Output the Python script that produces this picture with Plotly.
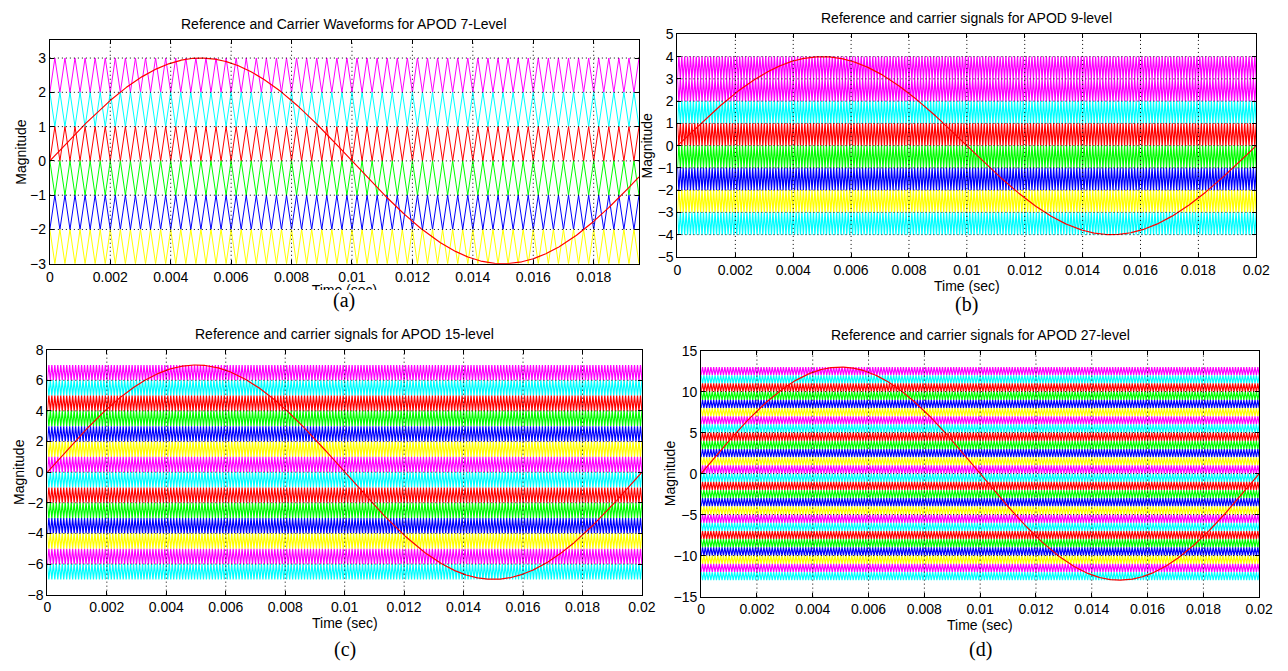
import numpy as np
import plotly.graph_objects as go

# ---------------- data ----------------
titles = [
    "Reference and Carrier Waveforms for APOD 7-Level",
    "Reference and carrier signals for APOD 9-level",
    "Reference and carrier signals for APOD 15-level",
    "Reference and carrier signals for APOD 27-level",
]
panel_labels = ["(a)", "(b)", "(c)", "(d)"]
levels = [7, 9, 15, 27]                 # number of output levels
ref_amplitude = [3, 4, 7, 13]           # reference peak value
ref_freq = 50                           # Hz
carrier_freq = [3000, 10000, 10000, 10000]   # Hz
t_end = [0.0195, 0.02, 0.02, 0.02]      # s

# band colours listed from the top band downwards
cycle6 = ["#FF00FF", "#00FFFF", "#FF0000", "#00FF00", "#0000FF", "#FFFF00"]
band_colors = [
    cycle6,
    ["#FF00FF", "#FF00FF", "#00FFFF", "#FF0000", "#00FF00", "#0000FF", "#FFFF00", "#00FFFF"],
    (cycle6 * 3)[:14],
    (cycle6 * 5)[:26],
]

y_ranges = [[-3, 3.52], [-5, 5], [-8, 8], [-15, 15]]
y_ticks = [list(range(-3, 4)), list(range(-5, 6)), list(range(-8, 9, 2)), list(range(-15, 16, 5))]
x_ticks = [0, 0.002, 0.004, 0.006, 0.008, 0.01, 0.012, 0.014, 0.016, 0.018, 0.02]
x_tick_text = ["0", "0.002", "0.004", "0.006", "0.008", "0.01", "0.012", "0.014", "0.016", "0.018", "0.02"]

# ---------------- layout geometry (pixels) ----------------
W, H = 1288, 671
boxes = [  # left, right, top, bottom
    (46.5, 644, 33, 262),
    (683, 1270, 27, 255),
    (44, 647, 350, 601),
    (707, 1273, 351, 603),
]
carrier_width = [1.0, 1.2, 1.2, 1.2]

FONT = "Liberation Sans Narrow, Liberation Sans, Arial, sans-serif"
SERIF = "Liberation Serif, Times New Roman, serif"

fig = go.Figure()
layout = dict(
    width=W, height=H, margin=dict(l=0, r=0, t=0, b=0),
    paper_bgcolor="white", plot_bgcolor="white", showlegend=False,
    font=dict(family=FONT, size=14, color="black"),
)
annotations = []
shapes = []

for i in range(4):
    xa = "x" if i == 0 else f"x{i+1}"
    ya = "y" if i == 0 else f"y{i+1}"
    l, r, t, b = boxes[i]
    n_carriers = levels[i] - 1
    half = 0.5 / carrier_freq[i]
    tt = np.arange(0, t_end[i] + half, half)
    base = (np.arange(len(tt)) % 2).astype(float)  # 0,1,0,1 triangle vertices
    top = n_carriers // 2
    for k in range(n_carriers):
        low = top - 1 - k
        wave = base if k % 2 == 0 else 1 - base   # alternate phase opposition
        fig.add_trace(go.Scatter(
            x=tt, y=low + wave, mode="lines",
            line=dict(color=band_colors[i][k], width=carrier_width[i]),
            xaxis=xa, yaxis=ya, hoverinfo="skip"))
    ts = np.linspace(0, t_end[i], 1500)
    fig.add_trace(go.Scatter(
        x=ts, y=ref_amplitude[i] * np.sin(2 * np.pi * ref_freq * ts), mode="lines",
        line=dict(color="#FF0000", width=1.2), xaxis=xa, yaxis=ya, hoverinfo="skip"))

    axcommon = dict(showline=True, linecolor="black", linewidth=1, mirror="ticks",
                    ticks="inside", ticklen=4, tickcolor="black",
                    showgrid=False, zeroline=False, tickfont=dict(family=FONT, size=14),
                    layer="above traces")
    layout["xaxis" if i == 0 else f"xaxis{i+1}"] = dict(
        axcommon, domain=[l / W, r / W], anchor=ya, range=[0, t_end[i]],
        tickvals=x_ticks, ticktext=x_tick_text)
    layout["yaxis" if i == 0 else f"yaxis{i+1}"] = dict(
        axcommon, domain=[1 - b / H, 1 - t / H], anchor=xa, range=y_ranges[i],
        tickvals=y_ticks[i])

    # dotted grid drawn above the traces (as in the original)
    for xv in x_ticks[1:]:
        if xv < t_end[i] - 1e-9:
            shapes.append(dict(type="line", xref=xa, yref=f"{ya} domain", x0=xv, x1=xv, y0=0, y1=1,
                               line=dict(color="black", width=1, dash="1px,3px"), layer="above"))
    for yv in y_ticks[i]:
        if y_ranges[i][0] < yv < y_ranges[i][1]:
            shapes.append(dict(type="line", xref=f"{xa} domain", yref=ya, x0=0, x1=1, y0=yv, y1=yv,
                               line=dict(color="black", width=1, dash="1px,3px"), layer="above"))

    cx = (l + r) / 2
    annotations.append(dict(text=titles[i], x=cx / W, y=1 - (t - 6) / H, xref="paper", yref="paper",
                            xanchor="center", yanchor="bottom", showarrow=False,
                            font=dict(family=FONT, size=14)))
    ylab_x = [17, 652, 15, 675][i]
    annotations.append(dict(text="Magnitude", x=ylab_x / W, y=1 - ((t + b) / 2) / H, xref="paper", yref="paper",
                            xanchor="center", yanchor="middle", textangle=-90, showarrow=False,
                            font=dict(family=FONT, size=14)))
    if i == 0:
        # x-label whose lower half is hidden in the original: shape label + white cover shape
        shapes.append(dict(type="rect", xref="paper", yref="paper",
                           x0=(cx - 60) / W, x1=(cx + 60) / W, y0=1 - 296 / H, y1=1 - 279 / H,
                           line=dict(width=0), fillcolor="rgba(0,0,0,0)", layer="above",
                           label=dict(text="Time (sec)", textposition="middle center",
                                      font=dict(family=FONT, size=14, color="black"))))
        shapes.append(dict(type="rect", xref="paper", yref="paper",
                           x0=(cx - 60) / W, x1=(cx + 60) / W, y0=1 - 297 / H, y1=1 - 289 / H,
                           line=dict(width=0), fillcolor="white", layer="above"))
    else:
        xlab_y = [288, 285, 630, 632][i]
        annotations.append(dict(text="Time (sec)", x=cx / W, y=1 - xlab_y / H, xref="paper", yref="paper",
                                xanchor="center", yanchor="middle", showarrow=False,
                                font=dict(family=FONT, size=14)))
    plab_y = [300, 304, 657, 657][i]
    annotations.append(dict(text=panel_labels[i], x=cx / W, y=1 - plab_y / H, xref="paper", yref="paper",
                            xanchor="center", yanchor="middle", showarrow=False,
                            font=dict(family=SERIF, size=20)))

layout["annotations"] = annotations
layout["shapes"] = shapes
fig.update_layout(**layout)
fig.write_html("out.html", config={"displayModeBar": False},
               post_script="document.body.style.margin='0';document.body.style.overflow='hidden';")
